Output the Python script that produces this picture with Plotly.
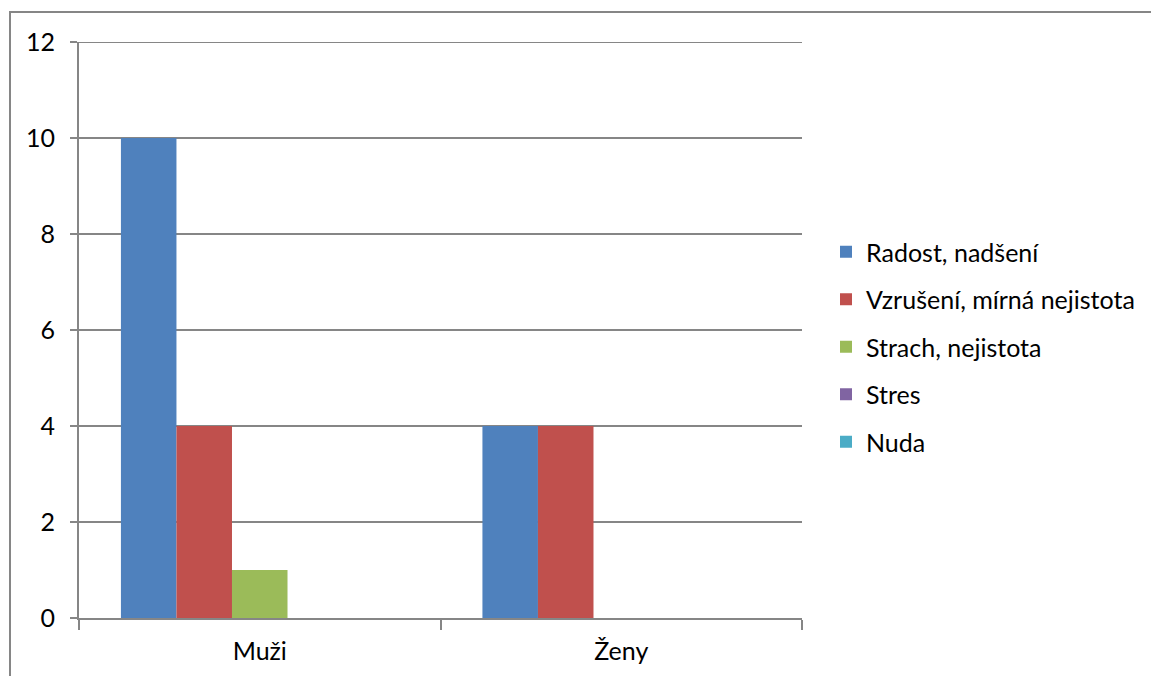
import plotly.graph_objects as go

categories = ["Muži", "Ženy"]
series_names = ["Radost, nadšení", "Vzrušení, mírná nejistota", "Strach, nejistota", "Stres", "Nuda"]
radost = [10, 4]
vzruseni = [4, 4]
strach = [1, 0]
stres = [0, 0]
nuda = [0, 0]
colors = ["#4F81BD", "#C0504D", "#9BBB59", "#8064A2", "#4BACC6"]
y_ticks = [0, 2, 4, 6, 8, 10, 12]

W, H = 1151, 676
L, R, T, B = 79, 349, 42, 58
pw, ph = W - L - R, H - T - B

FONT = "Lato"
FS = 25
GRID = "#868686"
fig = go.Figure()
for i, (name, vals) in enumerate(zip(series_names, [radost, vzruseni, strach, stres, nuda])):
    fig.add_trace(go.Bar(
        x=categories, y=vals, name=name,
        marker=dict(color=colors[i], line=dict(width=0)),
        legendgroup=f"g{i}",
    ))

def px_x(p):
    return (p - L) / pw

def px_y(p):
    return (H - B - p) / ph

fig.update_layout(
    width=W, height=H,
    margin=dict(l=L, r=R, t=T, b=B, autoexpand=False),
    paper_bgcolor="white", plot_bgcolor="white",
    barmode="group", bargap=0.232, bargroupgap=0,
    font=dict(family=FONT, size=FS, color="#000000"),
    legend=dict(
        x=px_x(826), xanchor="left", y=px_y(347), yanchor="middle",
        font=dict(family=FONT, size=FS, color="#000000"),
        tracegroupgap=12, bgcolor="rgba(0,0,0,0)",
    ),
    xaxis=dict(
        showline=True, linecolor=GRID, linewidth=2,
        ticks="outside", tickson="boundaries", ticklen=10, tickcolor=GRID, tickwidth=2,
        ticklabelstandoff=10, showgrid=False,
    ),
    yaxis=dict(
        range=[0, 12], tickvals=y_ticks,
        showline=True, linecolor=GRID, linewidth=2,
        ticks="outside", ticklen=7, tickcolor=GRID, tickwidth=2,
        showgrid=True, gridcolor=GRID, gridwidth=2,
        zeroline=False, ticklabelstandoff=10,
    ),
    shapes=[
        # outer chart frame
        dict(type="rect", xref="paper", yref="paper",
             x0=px_x(10), x1=px_x(1170), y0=px_y(690), y1=px_y(12),
             line=dict(color=GRID, width=2), fillcolor="rgba(0,0,0,0)", layer="below"),
        # top gridline at the axis maximum
        dict(type="line", xref="paper", yref="y", x0=0, x1=1, y0=y_ticks[-1], y1=y_ticks[-1],
             line=dict(color=GRID, width=2), layer="below"),
    ],
)

fig.write_html("out.html")
